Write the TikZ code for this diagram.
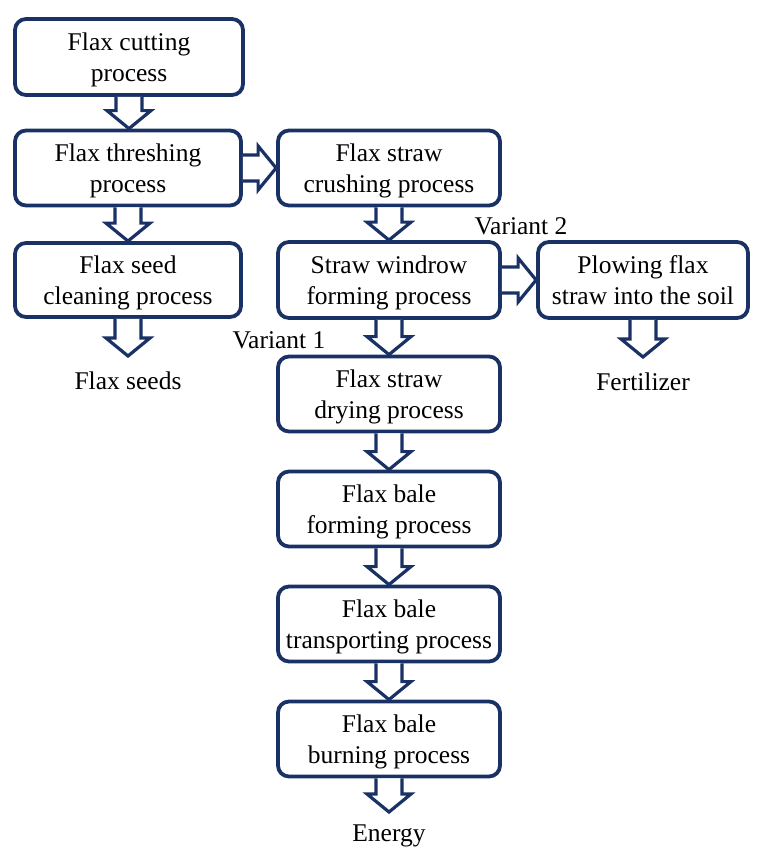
\documentclass[tikz,border=0pt]{standalone}
\usepackage{fontspec}
\setmainfont{Liberation Serif}
\usetikzlibrary{calc}
\definecolor{navy}{HTML}{1A3166}
\newcommand\twol[2]{\raisebox{0pt}[\dimexpr\height+6pt\relax][\depth]{\begin{tabular}{@{}c@{}}#1\\#2\end{tabular}}}
\tikzset{
  box/.style={draw=navy, line width=3.8pt, rounded corners=11pt,
    inner sep=0pt, font=\fontsize{25.5}{31}\selectfont},
  lbl/.style={inner sep=0pt, font=\fontsize{25.5}{31}\selectfont},
  barr/.style={draw=navy, line width=3.2pt, line join=miter, fill=white},
}
\newcommand\blkdown[2]{%
  \draw[barr] let \p1=#1, \p2=#2 in
    (\x1-13pt,\y1) -- (\x1-13pt,\y2+18pt) -- (\x1-22pt,\y2+18pt) -- (\x1,\y2)
    -- (\x1+22pt,\y2+18pt) -- (\x1+13pt,\y2+18pt) -- (\x1+13pt,\y1);}
\newcommand\blkright[2]{%
  \draw[barr] let \p1=#1, \p2=#2 in
    (\x1,\y1+13pt) -- (\x2-18pt,\y1+13pt) -- (\x2-18pt,\y1+22pt) -- (\x2,\y1)
    -- (\x2-18pt,\y1-22pt) -- (\x2-18pt,\y1-13pt) -- (\x1,\y1-13pt);}
\begin{document}
\begin{tikzpicture}[x=1pt,y=-1pt]
\useasboundingbox (0,0) rectangle (758,849);
\node[box, minimum width=228pt, minimum height=76pt] (b1) at (129,57) {\twol{Flax cutting}{process}};
\node[box, minimum width=226pt, minimum height=75pt] (b2) at (128,168) {\twol{Flax threshing}{process}};
\node[box, minimum width=226pt, minimum height=74pt] (b3) at (128,280) {\twol{Flax seed}{cleaning process}};
\node[box, minimum width=222pt, minimum height=75pt] (b4) at (389,168) {\twol{Flax straw}{crushing process}};
\node[box, minimum width=222pt, minimum height=76pt] (b5) at (389,280) {\twol{Straw windrow}{forming process}};
\node[box, minimum width=210pt, minimum height=76pt] (b6) at (643,280) {\twol{Plowing flax}{straw into the soil}};
\node[box, minimum width=222pt, minimum height=75pt] (b7) at (389,394) {\twol{Flax straw}{drying process}};
\node[box, minimum width=222pt, minimum height=75pt] (b8) at (389,509) {\twol{Flax bale}{forming process}};
\node[box, minimum width=222pt, minimum height=75pt] (b9) at (389,624) {\twol{Flax bale}{transporting process}};
\node[box, minimum width=222pt, minimum height=75pt] (b10) at (389,739) {\twol{Flax bale}{burning process}};
\node[lbl] (seeds) at (128,381) {Flax seeds};
\node[lbl] (fert) at (643,382) {Fertilizer};
\node[lbl] (energy) at (389,836) {Energy};
\node[lbl] (v2) at (521,226) {Variant 2};
\node[lbl] (v1) at (279,340) {Variant 1};
\coordinate (tseeds) at (128,356);
\coordinate (tfert) at (643,357);
\coordinate (tenergy) at (389,812);
\blkdown{(b1.south)}{(b2.north)}
\blkdown{(b2.south)}{(b3.north)}
\blkdown{(b3.south)}{(tseeds)}
\blkright{(b2.east)}{(b4.west)}
\blkdown{(b4.south)}{(b5.north)}
\blkright{(b5.east)}{(b6.west)}
\blkdown{(b6.south)}{(tfert)}
\blkdown{(b5.south)}{(b7.north)}
\blkdown{(b7.south)}{(b8.north)}
\blkdown{(b8.south)}{(b9.north)}
\blkdown{(b9.south)}{(b10.north)}
\blkdown{(b10.south)}{(tenergy)}
\end{tikzpicture}
\end{document}
